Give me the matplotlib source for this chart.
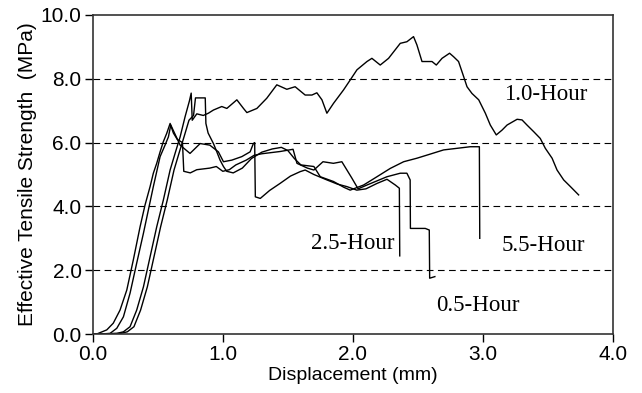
import numpy as np
import matplotlib.pyplot as plt

# 1.0-Hour
x_10 = [0.0, 0.1, 0.185, 0.236, 0.287, 0.338, 0.39, 0.441, 0.492, 0.543, 0.595, 0.633, 0.672,
        0.71, 0.743, 0.757, 0.765, 0.8, 0.85, 0.889, 0.928, 0.992, 1.031, 1.108, 1.159, 1.185,
        1.262, 1.338, 1.415, 1.492, 1.556, 1.633, 1.685, 1.723, 1.762, 1.8, 1.851, 1.928, 1.979,
        2.031, 2.108, 2.146, 2.21, 2.274, 2.364, 2.415, 2.466, 2.492, 2.531, 2.608, 2.641, 2.685,
        2.743, 2.774, 2.812, 2.851, 2.877, 2.915, 2.967, 3.018, 3.056, 3.102, 3.146, 3.185,
        3.262, 3.3, 3.338, 3.39, 3.44, 3.479, 3.531, 3.569, 3.62, 3.672, 3.735]
y_10 = [0.0, 0.01, 0.02, 0.07, 0.23, 0.75, 1.48, 2.42, 3.36, 4.2, 5.14, 5.66, 6.18,
        6.81, 7.3, 7.55, 6.7, 6.9, 6.85, 6.92, 7.02, 7.13, 7.07, 7.34, 7.07, 6.94,
        7.07, 7.39, 7.81, 7.67, 7.75, 7.49, 7.49, 7.56, 7.34, 6.92, 7.23, 7.65, 7.96,
        8.28, 8.54, 8.64, 8.43, 8.64, 9.11, 9.16, 9.32, 9.06, 8.54, 8.54, 8.43, 8.64,
        8.8, 8.69, 8.54, 8.07, 7.75, 7.54, 7.34, 6.92, 6.55, 6.24, 6.39, 6.55,
        6.73, 6.71, 6.55, 6.34, 6.13, 5.82, 5.51, 5.14, 4.83, 4.62, 4.36]

# 0.5-Hour
x_05 = [0.0, 0.03, 0.108, 0.158, 0.21, 0.262, 0.312, 0.364, 0.402, 0.441, 0.466, 0.492, 0.518,
        0.543, 0.569, 0.595, 0.62, 0.65, 0.69, 0.70, 0.75, 0.8, 0.9, 0.95, 1.0, 1.05, 1.1, 1.18,
        1.24, 1.3, 1.44, 1.54, 1.57, 1.65, 1.7, 1.77, 1.85, 1.915, 1.99, 2.04, 2.108, 2.262,
        2.364, 2.415, 2.44, 2.442, 2.556, 2.587, 2.59, 2.63]
y_05 = [0.0, 0.0, 0.13, 0.34, 0.75, 1.38, 2.32, 3.36, 4.04, 4.62, 5.04, 5.35, 5.71,
        6.03, 6.29, 6.6, 6.3, 6.1, 6.0, 5.1, 5.05, 5.15, 5.2, 5.25, 5.1, 5.15, 5.3, 5.45,
        5.6, 5.65, 5.72, 5.79, 5.35, 5.2, 5.14, 5.4, 5.35, 5.4, 4.9, 4.55, 4.67, 4.93,
        5.04, 5.04, 4.83, 3.31, 3.31, 3.26, 1.75, 1.8]

# 2.5-Hour
x_25 = [0.0, 0.05, 0.133, 0.185, 0.236, 0.287, 0.338, 0.39, 0.428, 0.466, 0.492, 0.518, 0.556,
        0.582, 0.6, 0.672, 0.748, 0.826, 0.9, 0.966, 1.005, 1.069, 1.146, 1.21, 1.235, 1.245,
        1.25, 1.288, 1.36, 1.44, 1.52, 1.595, 1.633, 1.7, 1.8, 1.88, 1.954, 2.03, 2.1, 2.185,
        2.262, 2.326, 2.357, 2.36]
y_25 = [0.0, 0.0, 0.02, 0.18, 0.54, 1.28, 2.22, 3.16, 3.89, 4.62, 5.09, 5.56, 5.92,
        6.18, 6.55, 5.92, 5.66, 5.97, 5.92, 5.71, 5.4, 5.45, 5.56, 5.71, 5.97, 6.0,
        4.3, 4.25, 4.5, 4.72, 4.95, 5.09, 5.14, 5.0, 4.83, 4.7, 4.62, 4.51, 4.55, 4.72,
        4.85, 4.67, 4.57, 2.45]

# 5.5-Hour
x_55 = [0.0, 0.12, 0.215, 0.266, 0.317, 0.368, 0.42, 0.471, 0.522, 0.573, 0.625, 0.663, 0.702,
        0.74, 0.775, 0.79, 0.865, 0.87, 0.887, 0.928, 0.954, 0.979, 1.005, 1.03, 1.08, 1.15,
        1.22, 1.3, 1.38, 1.45, 1.5, 1.55, 1.6, 1.7, 1.749, 1.851, 1.93, 1.979, 2.082, 2.185,
        2.287, 2.39, 2.492, 2.595, 2.697, 2.8, 2.902, 2.972, 2.975]
y_55 = [0.0, 0.01, 0.02, 0.07, 0.23, 0.75, 1.48, 2.42, 3.36, 4.2, 5.14, 5.66, 6.18,
        6.7, 6.85, 7.4, 7.4, 6.6, 6.3, 5.97, 5.71, 5.45, 5.25, 5.1, 5.05, 5.2,
        5.5, 5.7, 5.8, 5.85, 5.75, 5.5, 5.3, 5.25, 4.93, 4.78, 4.6, 4.51, 4.67, 4.93,
        5.19, 5.4, 5.51, 5.64, 5.77, 5.82, 5.87, 5.87, 3.0]

labels = ['1.0-Hour', '2.5-Hour', '5.5-Hour', '0.5-Hour']
label_x = [3.48, 2.0, 3.46, 2.96]
label_y = [7.5, 2.85, 2.76, 0.91]

fig = plt.figure(figsize=(6.42, 3.93), dpi=100)
ax = fig.add_axes([0.1444, 0.150, 0.8106, 0.812])

for xs, ys in [(x_10, y_10), (x_05, y_05), (x_25, y_25), (x_55, y_55)]:
    ax.plot(xs, ys, color='black', lw=1.0)

for g in [2, 4, 6, 8]:
    ax.axhline(g, color='black', lw=0.8, ls=(0, (6, 4)), zorder=0)

for t, tx, ty in zip(labels, label_x, label_y):
    ax.text(tx, ty, t, ha='center', va='center', fontsize=16.5, family='Liberation Serif')

ax.set_xlim(0, 4)
ax.set_ylim(0, 10)
ax.set_xticks(np.arange(0, 4.1, 1.0))
ax.set_yticks(np.arange(0, 10.1, 2.0))
ax.set_xticklabels([f'{v:.1f}' for v in np.arange(0, 4.1, 1.0)])
ax.set_yticklabels([f'{v:.1f}' for v in np.arange(0, 10.1, 2.0)])
ax.tick_params(direction='out', length=6, width=1, labelsize=15, pad=2)
for lab in ax.get_xticklabels() + ax.get_yticklabels():
    lab.set_family('Liberation Sans')
for s in ax.spines.values():
    s.set_linewidth(1.2)
    s.set_color('#333333')

ax.set_xlabel('Displacement (mm)', fontsize=14, family='Liberation Sans', labelpad=2)
ax.set_ylabel('Effective Tensile Strength  (MPa)', fontsize=15, family='Liberation Sans', labelpad=3)

fig.savefig('out.png', dpi=100)
